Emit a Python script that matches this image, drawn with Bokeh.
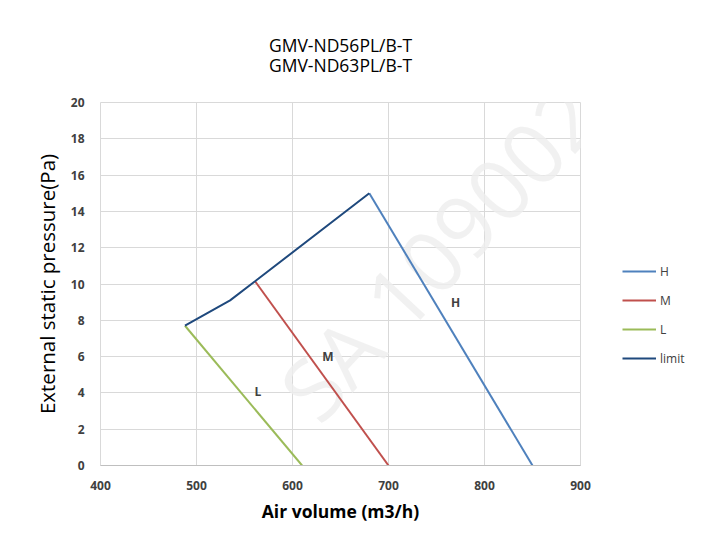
from bokeh.plotting import figure
from bokeh.models import Range1d, SingleIntervalTicker, Legend, LegendItem, Title, Label
from bokeh.core.properties import value
from bokeh.embed import file_html
from bokeh.resources import INLINE

# data
h_x = [680, 850]
h_y = [15.0, 0.0]
m_x = [561, 700]
m_y = [10.15, 0.0]
l_x = [488, 610]
l_y = [7.7, 0.0]
limit_x = [488, 535, 561, 680]
limit_y = [7.7, 9.1, 10.15, 15.0]

label_text = ["H", "M", "L"]
label_x = [770, 637, 564]
label_y = [9.0, 6.0, 4.1]

title_lines = ["GMV-ND56PL/B-T", "GMV-ND63PL/B-T"]

C_H = "#4f81bd"
C_M = "#c0504d"
C_L = "#9bbb59"
C_LIM = "#1f497d"
GRID = "#d9d9d9"
FONT = "Open Sans"

p = figure(frame_width=480, frame_height=363, output_backend="svg", toolbar_location=None,
           x_range=Range1d(400, 900), y_range=Range1d(0, 20),
           min_border_left=100, min_border_right=0, min_border_top=102, min_border_bottom=77)

p.background_fill_color = "white"
p.border_fill_color = "white"
p.outline_line_color = GRID

p.xaxis.ticker = SingleIntervalTicker(interval=100)
p.yaxis.ticker = SingleIntervalTicker(interval=2)
p.xgrid.grid_line_color = GRID
p.ygrid.grid_line_color = GRID

for ax in (p.xaxis[0], p.yaxis[0]):
    ax.major_tick_line_color = None
    ax.minor_tick_line_color = None
    ax.major_label_text_font = FONT
    ax.major_label_text_font_size = "12px"
    ax.major_label_text_font_style = "bold"
    ax.major_label_text_color = "#404040"
    ax.axis_label_text_font = FONT
    ax.axis_label_text_color = "#000000"

p.xaxis.axis_line_color = "#bfbfbf"
p.yaxis.axis_line_color = None
p.xaxis.major_label_standoff = 9
p.yaxis.major_label_standoff = 10
p.xaxis.axis_label = "Air volume (m3/h)"
p.xaxis.axis_label_text_font_size = "17.5px"
p.xaxis.axis_label_text_font_style = "bold"
p.xaxis.axis_label_standoff = 6
p.yaxis.axis_label = "External static pressure(Pa)"
p.yaxis.axis_label_text_font_size = "20.5px"
p.yaxis.axis_label_text_font_style = "normal"
p.yaxis.axis_label_standoff = 7

# watermark
p.add_layout(Label(x=752, y=11.8, text="SA 109002", angle=47, angle_units="deg",
                   text_align="center", text_baseline="middle", text_font=FONT,
                   text_font_size="86px", text_color="#eeeeee", text_alpha=0.8,
                   level="underlay"))

r_h = p.line(h_x, h_y, line_color=C_H, line_width=2)
r_m = p.line(m_x, m_y, line_color=C_M, line_width=2)
r_l = p.line(l_x, l_y, line_color=C_L, line_width=2)
r_lim = p.line(limit_x, limit_y, line_color=C_LIM, line_width=2)

p.text(x=label_x, y=label_y, text=label_text, text_font=value(FONT), text_font_size="12px",
       text_font_style="bold", text_color="#404040", text_align="center", text_baseline="middle")

legend = Legend(items=[LegendItem(label="H", renderers=[r_h]),
                       LegendItem(label="M", renderers=[r_m]),
                       LegendItem(label="L", renderers=[r_l]),
                       LegendItem(label="limit", renderers=[r_lim])],
                location=(42, 97), padding=0, margin=0, spacing=9,
                glyph_width=34, glyph_height=20, label_height=20, label_standoff=4,
                label_text_font=FONT, label_text_font_size="12px", label_text_color="#404040",
                border_line_alpha=0, background_fill_alpha=0)
p.add_layout(legend, "right")

p.add_layout(Title(text=title_lines[0] + "\n" + title_lines[1], align="center",
                   text_font=FONT, text_font_size="17.5px", text_font_style="normal",
                   text_line_height=0.85,
                   text_color="#000000", standoff=51), "above")

open("out.html", "w").write(file_html(p, INLINE))
